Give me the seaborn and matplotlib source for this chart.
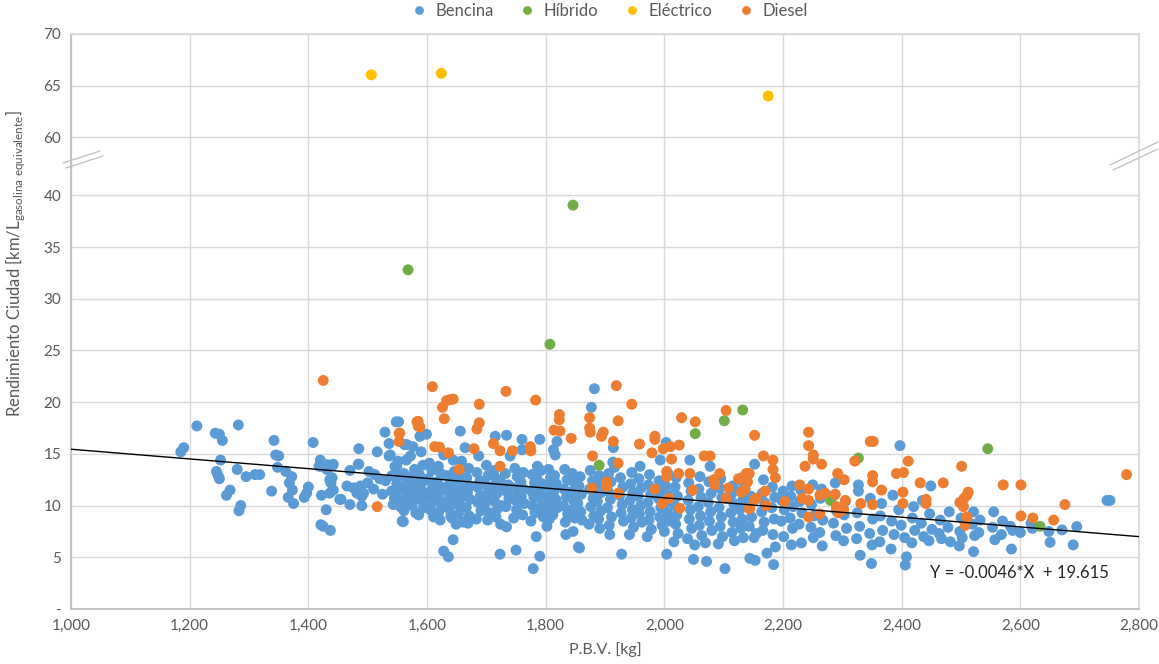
import matplotlib
matplotlib.use("Agg")
import matplotlib.pyplot as plt
from matplotlib.lines import Line2D
import pandas as pd
import seaborn as sns

# Valores: (P.B.V. [kg], rendimiento ciudad [km/L])
bencina = [
    (1185, 15.2), (1190, 15.6), (1212, 17.7), (1243, 17.0), (1250, 16.9), (1255, 16.3),
    (1245, 13.3), (1248, 12.9), (1250, 12.6), (1252, 14.4), (1262, 11.0), (1268, 11.5),
    (1280, 13.5), (1282, 17.8), (1283, 9.5), (1286, 10.0), (1295, 12.8), (1310, 13.0),
    (1318, 13.0), (1338, 11.4), (1342, 16.3), (1345, 14.9), (1350, 14.8), (1348, 13.7),
    (1362, 13.3), (1368, 12.2), (1372, 12.8), (1373, 11.5), (1366, 10.8), (1375, 10.2),
    (1393, 10.8), (1397, 11.2), (1400, 11.8), (1408, 16.1), (1418, 13.8), (1420, 14.4),
    (1422, 11.0), (1425, 8.0), (1430, 9.6), (1437, 7.6), (1440, 12.7), (1441, 13.9),
    (1436, 11.2), (1432, 13.95), (1438, 12.2), (1455, 10.6), (1465, 11.9), (1470, 13.4),
    (1470, 10.1), (1478, 11.7), (1485, 15.5), (1485, 14.0), (1488, 11.9), (1490, 10.0),
    (1493, 11.2), (1490, 10.9), (1423, 13.8), (1431, 13.5), (1442, 14.0), (1436, 12.5),
    (1442, 11.5), (1476, 11.7), (1482, 11.2), (1453, 10.6), (1421, 8.15), (1543, 10.1),
    (1560, 9.9), (1560, 8.45), (1549, 13.8), (1484, 14.0), (1502, 13.3), (1512, 13.0),
    (1520, 12.6), (1530, 12.4), (1541, 12.9), (1500, 12.2), (1510, 11.6), (1525, 11.1),
    (1540, 11.4), (1545, 10.7), (1516, 15.2), (1529, 17.1), (1536, 16.0), (1536, 14.8),
    (1552, 18.1), (1538, 14.9), (1566, 15.9),
    (1548, 18.1), (1551, 14.3), (1546, 13.8), (1553, 12.9), (1549, 12.1), (1556, 11.6),
    (1547, 11.0), (1552, 10.4), (1555, 9.9), (1558, 8.5),
    (1562, 15.9), (1565, 14.4), (1561, 13.1), (1566, 12.5), (1563, 11.9), (1568, 11.3),
    (1564, 10.7), (1567, 10.2), (1561, 9.5),
    (1576, 15.7), (1572, 14.8), (1579, 13.5), (1574, 12.8), (1578, 12.2), (1573, 11.8),
    (1580, 11.1), (1577, 10.6), (1575, 10.0), (1581, 9.3),
    (1588, 16.7), (1599, 16.9), (1590, 15.2), (1593, 13.9), (1587, 13.0), (1595, 12.4),
    (1589, 11.7), (1596, 11.2), (1591, 10.5), (1594, 9.8), (1586, 9.1),
    (1604, 14.1), (1608, 13.4), (1602, 12.6), (1610, 12.0), (1606, 11.4), (1603, 10.9),
    (1609, 10.3), (1605, 9.6), (1611, 8.9),
    (1619, 13.8), (1623, 13.1), (1617, 12.3), (1624, 11.8), (1621, 11.2), (1618, 10.8),
    (1625, 10.1), (1620, 9.4), (1622, 8.6), (1628, 14.9), (1628, 5.6), (1636, 5.05),
    (1634, 12.9), (1638, 12.1), (1635, 11.5), (1639, 10.9), (1633, 10.4), (1637, 9.7),
    (1640, 9.0),
    (1644, 14.4), (1644, 6.7), (1646, 13.3), (1643, 12.5), (1648, 11.7), (1645, 11.0),
    (1647, 10.2), (1642, 8.8), (1649, 8.2),
    (1656, 17.2), (1658, 14.3), (1655, 13.0), (1659, 12.2), (1654, 11.6), (1660, 10.9),
    (1657, 10.0), (1653, 9.2), (1661, 8.4),
    (1664, 15.6), (1670, 13.6), (1667, 12.7), (1672, 11.9), (1668, 11.3), (1673, 10.6),
    (1666, 9.8), (1671, 9.0), (1669, 8.3),
    (1687, 14.8), (1684, 13.2), (1689, 12.4), (1685, 11.8), (1690, 11.0), (1686, 10.3),
    (1691, 9.5), (1683, 8.7),
    (1700, 13.9), (1703, 12.9), (1698, 12.0), (1704, 11.4), (1701, 10.8), (1697, 10.1),
    (1705, 9.3), (1702, 8.6),
    (1715, 16.7), (1713, 13.4), (1717, 12.6), (1712, 11.9), (1718, 11.2), (1714, 10.4),
    (1719, 9.7), (1716, 8.9),
    (1723, 5.3), (1725, 12.2), (1722, 11.5), (1726, 10.0), (1724, 8.2),
    (1734, 16.8), (1740, 14.8), (1732, 13.1), (1737, 12.0), (1735, 11.3), (1738, 10.7),
    (1733, 9.9), (1734, 7.95),
    (1750, 5.7), (1748, 13.6), (1752, 12.8), (1747, 11.7), (1753, 11.1), (1749, 10.5),
    (1751, 9.6), (1746, 8.8),
    (1760, 16.4), (1760, 15.4), (1762, 13.2), (1758, 12.3), (1763, 11.6), (1759, 10.9),
    (1764, 10.2), (1761, 9.1),
    (1779, 3.9), (1777, 13.0), (1781, 12.2), (1776, 11.4), (1780, 10.8), (1778, 10.0),
    (1782, 9.3), (1775, 8.5), (1784, 7.0), (1786, 13.8), (1785, 12.6), (1787, 11.9),
    (1790, 16.4), (1790, 5.1), (1792, 13.4), (1794, 12.1), (1791, 11.2), (1795, 10.4),
    (1793, 9.7), (1796, 8.9),
    (1805, 13.5), (1808, 12.7), (1803, 11.9), (1807, 11.0), (1804, 10.3), (1809, 9.5),
    (1806, 8.7), (1802, 8.0),
    (1819, 16.2), (1813, 15.4), (1816, 14.9), (1815, 12.9), (1818, 12.1), (1814, 11.4),
    (1817, 10.6), (1820, 9.8), (1812, 9.1),
    (1834, 7.2), (1832, 13.5), (1836, 12.5), (1831, 11.6), (1835, 10.8), (1830, 10.0),
    (1837, 9.2), (1833, 8.4),
    (1845, 13.1), (1848, 12.2), (1843, 11.3), (1847, 10.5), (1844, 9.6), (1849, 8.8),
    (1846, 7.5),
    (1857, 5.9), (1855, 6.0), (1858, 12.8), (1856, 11.9), (1860, 11.1), (1854, 10.2),
    (1859, 9.4), (1861, 8.6),
    (1877, 19.5), (1882, 21.3), (1875, 13.4), (1879, 12.4), (1874, 11.6), (1880, 10.7),
    (1876, 9.9), (1881, 9.0), (1873, 8.2),
    (1890, 12.9), (1888, 12.0), (1892, 11.2), (1887, 10.4), (1893, 9.5), (1889, 8.7),
    (1891, 7.8),
    (1908, 7.2), (1906, 13.1), (1910, 12.3), (1905, 11.4), (1909, 10.6), (1904, 9.8),
    (1911, 8.9), (1907, 8.1), (1914, 15.6), (1916, 13.7), (1913, 14.2),
    (1928, 5.3), (1926, 12.7), (1930, 11.8), (1925, 11.0), (1929, 10.1), (1927, 9.3),
    (1931, 8.5),
    (1945, 13.2), (1943, 12.1), (1947, 11.3), (1942, 10.5), (1946, 9.6), (1944, 8.8),
    (1948, 7.9), (1941, 7.2),
    (1959, 13.8), (1957, 12.6), (1961, 11.7), (1956, 10.9), (1960, 10.0), (1958, 9.2),
    (1962, 8.4),
    (1975, 13.0), (1973, 12.0), (1977, 11.1), (1972, 10.3), (1976, 9.4), (1974, 8.6),
    (1978, 7.7), (1971, 7.0),
    (1993, 14.4), (1991, 12.4), (1995, 11.5), (1990, 10.7), (1994, 9.8), (1992, 8.9),
    (1996, 8.1),
    (2003, 16.1), (2004, 5.3), (2006, 13.1), (2002, 11.9), (2007, 11.0), (2001, 10.2),
    (2005, 9.3), (2008, 8.5), (2000, 7.5),
    (2020, 12.7), (2018, 11.8), (2022, 10.9), (2017, 10.0), (2021, 9.1), (2019, 8.2),
    (2023, 7.3), (2016, 6.5),
    (2043, 14.4), (2041, 12.2), (2045, 11.4), (2040, 10.5), (2044, 9.6), (2042, 8.7),
    (2046, 7.8), (2039, 6.8), (2049, 4.8), (2051, 6.2),
    (2060, 12.8), (2058, 11.6), (2062, 10.8), (2057, 9.9), (2061, 9.0), (2059, 8.1),
    (2063, 7.1), (2071, 4.6), (2069, 6.4),
    (2077, 13.8), (2075, 12.3), (2079, 11.2), (2074, 10.3), (2078, 9.4), (2076, 8.5),
    (2080, 7.6),
    (2095, 12.6), (2093, 11.7), (2097, 10.8), (2092, 9.8), (2096, 8.9), (2094, 8.0),
    (2098, 7.0), (2091, 6.3), (2102, 3.9),
    (2115, 11.9), (2113, 11.1), (2117, 10.2), (2112, 9.3), (2116, 8.4), (2114, 7.4),
    (2118, 6.6),
    (2130, 12.4), (2128, 11.4), (2132, 10.5), (2127, 9.6), (2131, 8.7), (2129, 7.8),
    (2133, 6.9),
    (2144, 4.9), (2152, 14.0), (2146, 10.9), (2142, 9.9), (2147, 8.9), (2143, 8.0),
    (2153, 4.7), (2167, 12.5), (2155, 7.3), (2151, 6.9),
    (2165, 11.2), (2169, 10.3), (2164, 9.4), (2168, 8.4), (2166, 7.6), (2173, 5.4),
    (2184, 4.3), (2182, 11.8), (2186, 10.8), (2181, 9.8), (2185, 8.7), (2183, 7.2),
    (2187, 6.0),
    (2200, 11.4), (2198, 10.5), (2202, 9.6), (2197, 8.5), (2201, 7.0),
    (2215, 11.9), (2213, 10.9), (2217, 9.9), (2212, 8.8), (2216, 7.8), (2214, 6.2),
    (2230, 11.5), (2228, 10.4), (2232, 9.3), (2227, 8.2), (2231, 6.4),
    (2250, 12.0), (2248, 10.1), (2252, 9.0), (2247, 7.9), (2251, 6.9),
    (2265, 11.6), (2263, 10.7), (2267, 8.6), (2262, 7.4), (2266, 6.1),
    (2288, 12.2), (2286, 11.0), (2290, 9.5), (2285, 8.3), (2289, 7.1),
    (2305, 10.4), (2303, 9.1), (2307, 7.8), (2302, 6.6),
    (2327, 12.0), (2327, 11.4), (2325, 9.3), (2329, 8.0), (2324, 6.8), (2330, 5.2),
    (2349, 4.4), (2347, 10.7), (2351, 8.7), (2346, 7.3), (2350, 6.2),
    (2366, 10.2), (2364, 9.0), (2368, 7.6), (2363, 6.5),
    (2385, 11.0), (2383, 8.5), (2387, 7.2), (2382, 5.8),
    (2397, 15.8), (2395, 9.6), (2399, 8.1), (2406, 4.25), (2408, 5.05), (2405, 6.9),
    (2420, 9.9), (2418, 8.8), (2422, 7.6), (2417, 6.4),
    (2435, 10.5), (2433, 8.3), (2437, 7.0),
    (2449, 11.9), (2447, 9.2), (2451, 7.7), (2446, 6.6),
    (2465, 8.6), (2463, 7.3), (2467, 6.8),
    (2480, 9.4), (2478, 7.9), (2482, 6.5),
    (2500, 8.8), (2498, 7.5), (2502, 6.9), (2497, 6.1),
    (2521, 9.4), (2519, 8.2), (2521, 5.55), (2523, 7.1), (2532, 8.6), (2530, 7.4),
    (2555, 9.4), (2553, 7.9), (2557, 6.7), (2570, 8.5), (2568, 7.2),
    (2585, 5.8), (2583, 8.0), (2587, 7.6), (2600, 7.4), (2620, 7.8), (2618, 8.3),
    (2650, 6.45), (2648, 7.5), (2670, 7.65), (2689, 6.2), (2695, 7.97),
    (2746, 10.5), (2751, 10.5),
]

hibrido = [
    (1568, 32.8), (1846, 39.05), (1807, 25.6), (2132, 19.25), (2101, 18.2),
    (2052, 16.96), (1890, 13.9), (2327, 14.6), (2280, 10.5), (2545, 15.5), (2633, 8.0),
]

electrico = [(1506, 66.05), (1624, 66.2), (2175, 64.0)]

diesel = [
    (1425, 22.1), (1516, 9.9), (1553, 17.0), (1553, 16.2), (1583, 18.1), (1585, 17.7),
    (1554, 17.0), (1585, 18.15), (1588, 17.6), (1609, 21.5), (1626, 19.5), (1629, 18.4),
    (1633, 20.15), (1639, 20.25), (1644, 20.3), (1613, 15.7), (1621, 15.65), (1636, 15.1),
    (1654, 13.5), (1679, 15.5), (1684, 17.4), (1688, 18.0), (1688, 19.8), (1712, 16.0),
    (1723, 15.3), (1723, 13.8), (1733, 21.05), (1744, 15.3), (1774, 15.7), (1775, 15.3),
    (1783, 20.2), (1814, 17.3), (1823, 18.3), (1823, 18.8), (1824, 17.2), (1843, 16.5),
    (1874, 18.5), (1874, 17.5), (1875, 17.1), (1878, 11.7), (1879, 14.8), (1894, 16.7),
    (1897, 17.1), (1903, 12.3), (1903, 11.85), (1914, 16.2), (1919, 21.6), (1922, 18.2),
    (1922, 14.1), (1922, 11.2), (1945, 19.8), (1958, 15.95), (1979, 15.1), (1984, 16.7),
    (1984, 16.4), (1984, 11.6), (1996, 10.2), (1998, 15.5), (2004, 13.3), (2004, 12.8),
    (2008, 10.7), (2010, 15.7), (2012, 14.5), (2024, 13.1), (2025, 15.85), (2026, 9.75),
    (2029, 18.5), (2043, 13.1), (2048, 11.5), (2052, 18.1), (2067, 14.8), (2077, 14.8),
    (2083, 12.5), (2085, 12.0), (2093, 13.1), (2104, 19.2), (2104, 10.7), (2108, 11.7),
    (2125, 12.6), (2138, 13.1), (2140, 12.3), (2130, 11.3), (2136, 11.6), (2144, 9.75),
    (2152, 16.8), (2156, 10.7), (2167, 14.8), (2183, 14.4), (2183, 13.5), (2187, 12.7),
    (2143, 13.1), (2131, 12.7), (2170, 11.4), (2152, 10.6), (2172, 10.0), (2143, 9.7),
    (2243, 17.1), (2243, 15.8), (2251, 14.9), (2251, 14.5), (2265, 14.0), (2237, 13.8),
    (2228, 12.0), (2243, 11.6), (2232, 10.7), (2243, 10.5), (2262, 11.0), (2271, 11.2),
    (2288, 11.1), (2203, 10.4), (2243, 8.9), (2262, 9.2), (2292, 13.1), (2303, 12.5),
    (2290, 9.9), (2305, 10.5), (2302, 9.6), (2293, 9.3), (2321, 14.3), (2347, 16.2),
    (2352, 16.2), (2351, 12.9), (2351, 12.3), (2366, 11.5), (2331, 10.2), (2351, 10.1),
    (2391, 13.1), (2403, 13.2), (2411, 14.3), (2402, 11.3), (2402, 10.2), (2431, 12.2),
    (2441, 10.6), (2441, 10.2), (2470, 12.2), (2501, 13.8), (2498, 10.3), (2505, 10.7),
    (2510, 11.0), (2512, 11.3), (2504, 9.9), (2510, 8.9), (2507, 8.1), (2571, 12.0),
    (2601, 12.0), (2601, 9.0), (2621, 8.8), (2656, 8.6), (2675, 10.1), (2779, 13.0),
]

tipos = ["Bencina", "Híbrido", "Eléctrico", "Diesel"]
colores = ["#5B9BD5", "#70AD47", "#FFC000", "#ED7D31"]

# linea de tendencia (extremos) y su ecuacion
trend_x = [1000, 2800]
trend_y = [15.45, 7.0]
ecuacion = "Y = -0.0046*X  + 19.615"

x_ticks = list(range(1000, 2801, 200))
y_ticks = [0, 5, 10, 15, 20, 25, 30, 35, 40, 60, 65, 70]
y_labels = ["-", "5", "10", "15", "20", "25", "30", "35", "40", "60", "65", "70"]

# eje cortado: los valores sobre el corte se desplazan hacia abajo
corte = 45
salto = 14.4


def eje_y(v):
    return v - salto if v > corte else v


filas = []
for tipo, datos in zip(tipos, [bencina, hibrido, electrico, diesel]):
    for x, y in datos:
        filas.append({"pbv": x, "rend": eje_y(y), "tipo": tipo})
df = pd.DataFrame(filas)

sns.set_theme(style="white")
plt.rcParams["font.family"] = ["Lato", "DejaVu Sans"]
plt.rcParams["mathtext.fontset"] = "custom"
plt.rcParams["mathtext.rm"] = "Lato"
gris = "#595959"

fig = plt.figure(figsize=(11.59, 6.64), dpi=100)
ax = fig.add_axes([0.0613, 0.0828, 0.9215, 0.866])

sns.scatterplot(data=df, x="pbv", y="rend", hue="tipo", hue_order=tipos,
                palette=colores, s=62, linewidth=0, ax=ax, zorder=3)

ax.plot(trend_x, trend_y, color="black", lw=1, zorder=4)
ax.text(2448, 3.0, ecuacion, fontsize=12, color="#262626", zorder=5)

ax.set_xlim(1000, 2800)
ax.set_ylim(0, 70 - salto)
ax.set_xticks(x_ticks)
ax.set_xticklabels([f"{v:,}" for v in x_ticks])
ax.set_yticks([eje_y(v) for v in y_ticks])
ax.set_yticklabels(y_labels)
ax.tick_params(length=0, colors=gris, labelsize=11, pad=7)
ax.grid(True, color="#d9d9d9", lw=1)
ax.set_axisbelow(True)
for lado in ["top", "right"]:
    ax.spines[lado].set_color("#d9d9d9")
for lado in ["left", "bottom"]:
    ax.spines[lado].set_color("#bfbfbf")

ax.set_xlabel("P.B.V. [kg]", fontsize=11.5, color=gris)
ax.set_ylabel(r"Rendimiento Ciudad [km/L$_{\mathrm{gasolina\ equivalente}}$]",
              fontsize=12, color=gris)
ax.xaxis.set_label_coords(0.5, -0.058)
ax.yaxis.set_label_coords(-0.041, 0.6)

sns.move_legend(ax, "lower center", bbox_to_anchor=(0.5, 1.0), ncol=4,
                frameon=False, title=None, fontsize=12, handletextpad=0.0,
                columnspacing=1.0, markerscale=0.8)
for t in ax.get_legend().get_texts():
    t.set_color(gris)

# marcas del corte del eje
W, H = 1159, 664
for (x0, y0, x1, y1) in [(63, 163, 100, 151), (66, 168, 103, 156),
                         (1110, 165, 1158, 142), (1113, 170, 1158, 149)]:
    fig.add_artist(Line2D([x0 / W, x1 / W], [1 - y0 / H, 1 - y1 / H],
                          color="#bfbfbf", lw=0.9, transform=fig.transFigure))

fig.savefig("out.png", dpi=100)
